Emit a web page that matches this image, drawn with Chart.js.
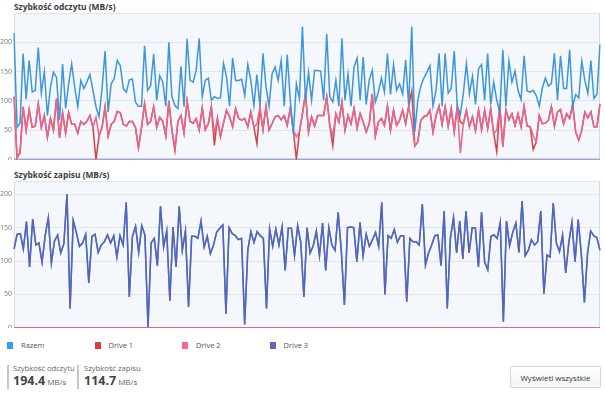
<!DOCTYPE html>
<html>
<head>
<meta charset="utf-8">
<script src="https://cdn.jsdelivr.net/npm/chart.js@4/dist/chart.umd.min.js"></script>
<style>
  body { margin: 0; width: 605px; height: 395px; background: #fff; position: relative; overflow: hidden;
         font-family: "Open Sans", sans-serif; color: #333; }
  .title { position: absolute; left: 14px; font-weight: bold; font-size: 8.4px; color: #3c3c3c; }
  canvas { position: absolute; left: 0; }
  #legend { position: absolute; left: 7px; top: 340px; display: flex; }
  .item { width: 87.5px; display: flex; align-items: center; font-size: 7.5px; color: #555; }
  .sw { width: 6px; height: 7px; margin-right: 8px; }
  .bar { position: absolute; top: 365px; width: 2px; height: 24px; background: #c3c7cc; }
  .stat { position: absolute; top: 363px; }
  .stat .lbl { font-size: 7.6px; color: #666; }
  .stat .val { font-size: 12.5px; font-weight: bold; color: #444; margin-top: -1px; }
  .stat .val span { font-size: 8px; font-weight: normal; color: #666; margin-left: 2px; }
  #btn { position: absolute; left: 510px; top: 366px; width: 89px; height: 20px; border: 1px solid #d0d6dc;
         border-radius: 2px; background: linear-gradient(#ffffff, #f2f4f6); font-size: 8px; color: #333;
         display: flex; align-items: center; justify-content: center; }
</style>
</head>
<body>
<div class="title" style="top:1px">Szybkość odczytu (MB/s)</div>
<canvas id="readChart" width="605" height="160" style="top:0"></canvas>
<div class="title" style="top:169px">Szybkość zapisu (MB/s)</div>
<canvas id="writeChart" width="605" height="163" style="top:165px"></canvas>

<div id="legend"></div>

<div class="bar" style="left:7px"></div>
<div class="stat" style="left:13px"><div class="lbl">Szybkość odczytu</div><div class="val">194.4<span>MB/s</span></div></div>
<div class="bar" style="left:77px"></div>
<div class="stat" style="left:84px"><div class="lbl">Szybkość zapisu</div><div class="val">114.7<span>MB/s</span></div></div>
<div id="btn">Wyświetl wszystkie</div>

<script>
const seriesNames = ["Razem", "Drive 1", "Drive 2", "Drive 3"];
const lineColors = ["#3d95de", "#d8413f", "#e8658c", "#5b60b9"];
const legendColors = ["#3b9be8", "#da3d3a", "#f06a92", "#6466c0"];
const yTicksRead = [0, 50, 100, 150, 200];
const yTicksWrite = [0, 50, 100, 150, 200];

// read speed (MB/s)
const readTotal = [
  216,55,62,181,103,169,115,118,191,113, 150,75,123,149,140,67,163,87,129,163,
  123,90,135,121,132,145,118,90,73,121, 185,81,129,138,169,160,121,115,136,137,
  98,91,91,194,118,126,180,101,143,132, 91,200,107,92,87,159,90,206,135,132,
  152,
  207,107,135,139,101,107,104,105,164,141, 91,173,135,135,137,109,162,135,92,145,
  91,181,124,91,146,158,135,169,91,179, 101,44,129,104,227,101,149,101,152,152,
  151,101,214,107,98,135,91,207,101,146, 91,158,173,101,175,94,136,152,98,115,
  139,115,181,111,162,118,129,
  112,170,91,227,47,101,126,139,149,160, 91,118,181,91,181,113,121,185,91,77,
  113,164,112,142,94,155,162,101,181,94, 132,101,81,187,91,168,132,151,118,102,
  177,117,115,118,109,91,122,139,125,130, 181,101,177,121,121,187,91,111,105,168,
  135,113,169,104,111,196
];
const readDrive1 = [
  107,3,12,90,50,85,55,57,95,55, 75,38,70,50,104,37,80,45,80,60,
  60,45,65,60,65,75,55,0,40,55, 90,40,60,65,82,80,60,57,65,65,
  55,20,55,95,60,65,90,55,72,65, 40,100,50,15,65,75,45,100,65,62,
  70,
  50,88,51,61,90,24,70,39,62,84, 73,56,87,70,67,70,56,81,56,27,
  88,51,91,50,61,73,75,68,75,58, 88,50,0,47,78,113,47,73,57,75,
  75,75,107,58,23,78,64,98,50,75, 61,87,54,78,64,47,61,112,40,64,
  70,58,91,50,84,58,67,
  84,61,91,117,23,30,67,73,75,84, 47,75,91,60,90,57,87,47,91,64,
  61,84,56,73,49,84,51,84,53,87, 44,13,91,22,85,68,78,58,78,56,
  91,57,56,17,30,75,61,62,67,90, 57,81,85,61,78,70,94,47,33,50,
  81,71,81,56,56,95
];
const readDrive2 = [
  107,3,12,90,50,85,55,57,95,55, 75,38,70,50,104,37,80,45,80,60,
  60,45,65,60,65,75,55,72,40,55, 90,40,60,65,82,80,60,57,65,65,
  55,20,55,95,60,65,90,55,72,65, 40,100,50,20,65,75,45,100,65,62,
  70,
  50,88,51,61,90,44,70,39,62,84, 73,56,87,70,67,70,56,81,56,60,
  88,51,91,50,61,73,75,68,75,58, 88,50,39,47,78,113,47,73,57,75,
  75,75,107,58,40,78,64,98,50,75, 61,87,54,78,64,47,61,112,40,64,
  70,58,91,50,84,58,67,
  84,61,91,64,23,30,67,73,75,84, 47,75,91,60,90,57,87,47,91,11,
  61,84,56,73,49,84,51,84,53,87, 44,50,91,22,85,68,78,58,78,56,
  91,57,56,41,30,75,61,62,67,90, 57,81,85,61,78,70,94,47,33,50,
  81,71,81,56,56,95
];
const readDrive3 = readTotal.map(() => 0);

// write speed (MB/s) - only Drive 3 is written, so it equals the total
const writeTotal = [
  118,140,141,118,159,91,163,124,127,98, 138,165,97,130,139,112,126,200,29,161,
  143,122,127,140,67,137,140,113,124,129, 139,127,138,106,138,124,188,46,137,152,
  113,153,139,1,127,134,93,182,121,145, 40,151,91,182,116,145,31,137,137,134,
  160,121,137,111,124,143,149,154,21,150, 141,138,132,134,5,116,144,128,144,138,
  134,29,148,122,148,124,151,86,149,149, 108,153,128,46,150,112,123,145,108,157,
  86,150,124,116,173,116,34,150,151,150, 99,158,108,140,122,132,143,122,188,50,
  138,134,147,128,
  138,138,39,134,129,129,124,185,94,112, 124,138,139,93,175,29,134,165,112,160,
  103,175,112,150,150,91,173,98,87,137, 139,134,158,9,160,123,143,157,113,190,
  108,116,132,124,129,175,51,109,106,187, 127,114,139,82,128,158,99,162,111,38,
  111,145,138,135,116
];
const writeDrive1 = writeTotal.map(() => 0);
const writeDrive2 = writeTotal.map(() => 0);

const readLabels = readTotal.map((v, i) => i);
const writeLabels = writeTotal.map((v, i) => i);

// light plot background + frame
const plotFrame = {
  id: "plotFrame",
  beforeDraw(chart) {
    const { ctx, chartArea: a } = chart;
    ctx.save();
    ctx.fillStyle = "#f4f8fc";
    ctx.fillRect(a.left, a.top, a.right - a.left, a.bottom - a.top);
    ctx.strokeStyle = "#d3dbe3";
    ctx.lineWidth = 1;
    ctx.strokeRect(a.left + 0.5, a.top + 0.5, a.right - a.left - 1, a.bottom - a.top);
    ctx.restore();
  }
};

function makeChart(id, labels, series, order, max, ticks, padTop, padBottom) {
  return new Chart(document.getElementById(id), {
    type: "line",
    data: {
      labels: labels,
      datasets: series.map((d, i) => ({
        label: seriesNames[i],
        data: d,
        borderColor: lineColors[i],
        borderWidth: 1.5,
        pointRadius: 0,
        tension: 0,
        order: order[i]
      }))
    },
    options: {
      responsive: false,
      animation: false,
      layout: { padding: { top: padTop, right: 5, bottom: padBottom, left: 0 } },
      plugins: { legend: { display: false }, tooltip: { enabled: false } },
      scales: {
        x: { display: false },
        y: {
          min: 0,
          max: max,
          afterFit(scale) {
            scale.width = 14;
            scale.paddingTop = 0;
            scale.paddingBottom = 0;
          },
          afterBuildTicks(scale) { scale.ticks = ticks.concat([max]).map(v => ({ value: v })); },
          border: { display: false },
          grid: { color: "#e2e6eb", drawTicks: false },
          ticks: {
            padding: 2,
            color: "#777",
            font: { size: 7, family: "Open Sans" },
            callback: v => (ticks.includes(v) ? v : "")
          }
        }
      }
    },
    plugins: [plotFrame]
  });
}

makeChart("readChart", readLabels, [readTotal, readDrive1, readDrive2, readDrive3],
  [1, 3, 2, 0], 250, yTicksRead, 13, 0.5);
makeChart("writeChart", writeLabels, [writeTotal, writeDrive1, writeDrive2, writeTotal],
  [1, 3, 2, 0], 220, yTicksWrite, 16, 0.3);

// html legend
const legend = document.getElementById("legend");
seriesNames.forEach((name, i) => {
  const item = document.createElement("div");
  item.className = "item";
  item.innerHTML = `<div class="sw" style="background:${legendColors[i]}"></div>${name}`;
  legend.appendChild(item);
});
</script>
</body>
</html>
